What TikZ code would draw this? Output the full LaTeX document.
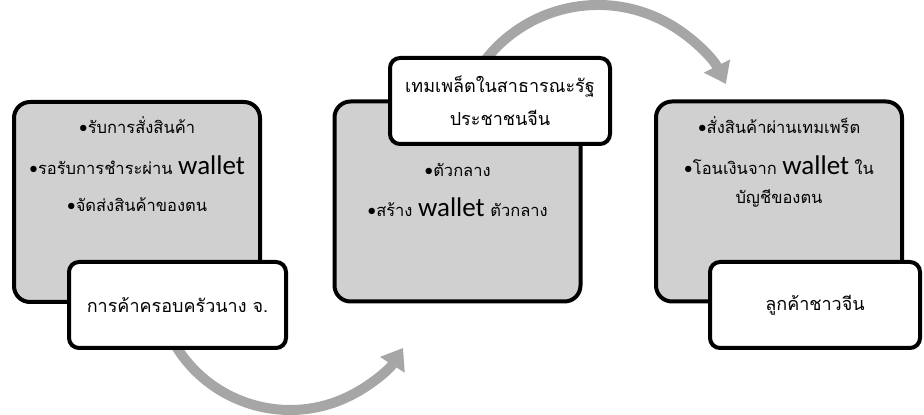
\documentclass[tikz,border=0pt]{standalone}
\usepackage{fontspec}
\setmainfont[Script=Thai]{Loma}
\newfontfamily\latinfont{Carlito}
\usetikzlibrary{arrows.meta}
\definecolor{boxgray}{HTML}{D0D0D0}
\definecolor{arcgray}{HTML}{A6A6A6}
\newcommand{\wlt}{{\latinfont\fontsize{27}{30}\selectfont wallet}}
\newcommand{\itm}{{\latinfont\fontsize{18}{20}\selectfont •}}

\begin{document}
\begin{tikzpicture}[x=1pt,y=1pt,
  bigbox/.style={draw=black,line width=4pt,fill=boxgray,rounded corners=16pt,
    minimum width=246pt,minimum height=200pt},
  namebox/.style={draw=black,line width=4pt,fill=white,rounded corners=10pt,
    minimum height=86pt,font=\fontsize{18}{33}\selectfont,align=center},
  itemtxt/.style={font=\fontsize{16.5}{18}\selectfont,inner sep=0pt},
  flow/.style={draw=arcgray,line width=10pt,-{Triangle[width=28pt,length=20pt]}}]
\useasboundingbox (0,0) rectangle (924,415);

% arcs between the steps
\coordinate (famArc) at (168.6,82.4);
\draw[flow] (famArc) arc[start angle=205,end angle=327.5,radius=134];

\coordinate (tplArc) at (474.2,338.5);
\draw[flow] (tplArc) arc[start angle=150,end angle=26.6,radius=143];

% family shop
\node[bigbox] (famBox) at (137,213) {};
\node[itemtxt] (famA) at (137,290) {\itm รับการสั่งสินค้า};
\node[itemtxt] (famB) at (137,250) {\itm รอรับการชำระผ่าน \wlt};
\node[itemtxt] (famC) at (137,210) {\itm จัดส่งสินค้าของตน};
\node[namebox,minimum width=217pt] (famName) at (177.5,110) {การค้าครอบครัวนาง จ.};

% template
\node[bigbox] (tplBox) at (457.5,213.5) {};
\node[itemtxt] (tplA) at (457.5,245) {\itm ตัวกลาง};
\node[itemtxt] (tplB) at (457.5,208) {\itm สร้าง \wlt\ ตัวกลาง};
\node[namebox,minimum width=220pt] (tplName) at (500,314) {เทมเพล็ตในสาธารณะรัฐ\\ประชาชนจีน};

% customer
\node[bigbox] (cusBox) at (779,213.5) {};
\node[itemtxt] (cusA) at (779,290) {\itm สั่งสินค้าผ่านเทมเพร็ต};
\node[itemtxt] (cusB) at (779,250) {\itm โอนเงินจาก \wlt\ ใน};
\node[itemtxt] (cusC) at (779,217) {บัญชีของตน};
\node[namebox,minimum width=210pt] (cusName) at (815,110) {ลูกค้าชาวจีน};

\end{tikzpicture}
\end{document}
